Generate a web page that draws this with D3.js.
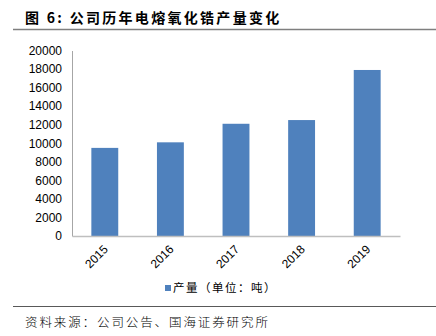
<!DOCTYPE html>
<html><head><meta charset="utf-8">
<script src="https://cdn.jsdelivr.net/npm/d3@7"></script>
<style>body{margin:0;background:#fff;} svg{display:block;}</style>
</head><body>
<script>
const categories = ["2015","2016","2017","2018","2019"];
const values = [9500, 10100, 12100, 12500, 17900];
const yTicks = [0,2000,4000,6000,8000,10000,12000,14000,16000,18000,20000];
const titleText = "图 6:  公司历年电熔氧化锆产量变化";
const legendText = "产量（单位：吨）";
const sourceText = "资料来源：公司公告、国海证券研究所";

const W = 436, H = 336;
const svg = d3.select("body").append("svg").attr("width", W).attr("height", H);
const m = {left: 72, right: 400, top: 50.5, bottom: 236};
const x = d3.scaleBand().domain(categories).range([m.left, m.right]).paddingInner(0.59).paddingOuter(0.295);
const y = d3.scaleLinear().domain([0, 20000]).range([m.bottom, m.top]);

// title
svg.append("text").attr("x", 25).attr("y", 23)
  .attr("font-family", "Noto Sans CJK SC").attr("font-weight", "bold").attr("font-size", 14)
  .attr("letter-spacing", 2.3).attr("fill", "#000").text(titleText);
svg.append("line").attr("x1", 13).attr("x2", W).attr("y1", 29.5).attr("y2", 29.5)
  .attr("stroke", "#7f7f7f").attr("stroke-width", 1.5);

// y axis
const ya = svg.append("g").attr("transform", `translate(${m.left},0)`)
  .call(d3.axisLeft(y).tickValues(yTicks).tickSize(0).tickPadding(10).tickFormat(d3.format("d")));
ya.select(".domain").attr("stroke", "#a6a6a6");
ya.selectAll("text").attr("font-family", "Arial, Liberation Sans").attr("font-size", 12).attr("fill", "#000");

// bars
svg.append("g").selectAll("rect").data(values).join("rect")
  .attr("x", (d,i) => x(categories[i])).attr("width", x.bandwidth())
  .attr("y", d => y(d)).attr("height", d => y(0) - y(d))
  .attr("fill", "#4f81bd");

// x axis
const xa = svg.append("g").attr("transform", `translate(0,${m.bottom})`)
  .call(d3.axisBottom(x).tickSize(0).tickPadding(0));
xa.select(".domain").attr("stroke", "#bfbfbf").attr("stroke-width", 1.5);
xa.selectAll("text").attr("font-family", "Arial, Liberation Sans").attr("font-size", 12).attr("fill", "#000")
  .attr("text-anchor", "end").attr("dy", 0)
  .attr("transform", "translate(4,14) rotate(-45)");

// legend
svg.append("rect").attr("x", 165).attr("y", 285).attr("width", 6).attr("height", 6).attr("fill", "#4f81bd");
svg.append("text").attr("x", 173).attr("y", 292)
  .attr("font-family", "Noto Sans CJK SC").attr("font-size", 11.5).attr("fill", "#000")
  .attr("letter-spacing", 1.5).text(legendText);

// source
svg.append("line").attr("x1", 13).attr("x2", W).attr("y1", 306.5).attr("y2", 306.5)
  .attr("stroke", "#595959").attr("stroke-width", 1);
svg.append("text").attr("x", 25).attr("y", 327)
  .attr("font-family", "Noto Sans CJK SC").attr("font-weight", 300).attr("font-size", 12.5)
  .attr("letter-spacing", 1.9).attr("fill", "#000").text(sourceText);
</script>
</body></html>
